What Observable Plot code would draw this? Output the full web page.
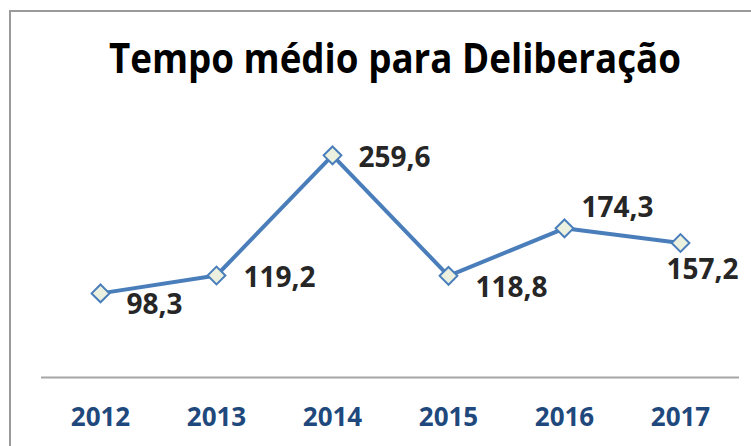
<!DOCTYPE html>
<html>
<head>
<meta charset="utf-8">
<script src="https://cdn.jsdelivr.net/npm/d3@7"></script>
<script src="https://cdn.jsdelivr.net/npm/@observablehq/plot@0.6"></script>
<style>
  html, body { margin: 0; padding: 0; background: #fff; }
  #wrap { position: relative; width: 751px; height: 446px; overflow: hidden; background: #fff; }
  #frame { position: absolute; left: 9px; top: 10px; width: 800px; height: 500px;
           border-top: 2px solid #9a9a9a; border-left: 2px solid #9a9a9a; box-sizing: border-box; }
  #title { position: absolute; left: 0; top: 32px; width: 790px; text-align: center;
           font-family: "Open Sans", sans-serif; font-weight: 700; font-size: 42px; color: #000;
           transform: scaleX(0.875); transform-origin: 395px 0; line-height: 1.2; }
  #chart { position: absolute; left: 0; top: 100px; }
</style>
</head>
<body>
<div id="wrap">
  <div id="frame"></div>
  <div id="title">Tempo médio para Deliberação</div>
  <div id="chart"></div>
</div>
<script>
const years = ["2012", "2013", "2014", "2015", "2016", "2017"];
const values = [98.3, 119.2, 259.6, 118.8, 174.3, 157.2];
const valueLabels = ["98,3", "119,2", "259,6", "118,8", "174,3", "157,2"];

const data = years.map((year, i) => ({year, value: values[i], label: valueLabels[i]}));

// label placement (style), per year: [dx, dy]
const labelOffsets = {
  "2012": [26, 12], "2013": [27, 3], "2014": [26, 3],
  "2015": [27, 12], "2016": [17, -20], "2017": [-14, 27]
};

const blue = "#4A7EBB";
const labelMarks = years.map(yr => Plot.text(data.filter(d => d.year === yr), {
  x: "year", y: "value", text: "label", textAnchor: "start",
  dx: labelOffsets[yr][0], dy: labelOffsets[yr][1],
  fontSize: 28, fontWeight: 700, fill: "#262626"
}));

const chart = Plot.plot({
  width: 751,
  height: 346,
  marginLeft: 41,
  marginRight: 12,
  marginTop: 20.3,
  marginBottom: 69,
  style: {fontFamily: "Open Sans, sans-serif", background: "transparent"},
  x: {type: "point", domain: years, padding: 0.5, axis: null},
  y: {domain: [0, 300], axis: null},
  marks: [
    Plot.ruleY([0], {stroke: "#A6A6A6", strokeWidth: 2}),
    Plot.axisX({tickSize: 0, tickPadding: 30, fontSize: 26, fontWeight: 700, fill: "#1F497D", label: null}),
    Plot.line(data, {x: "year", y: "value", stroke: blue, strokeWidth: 4}),
    Plot.dot(data, {x: "year", y: "value", symbol: "diamond2", r: 8, fill: "#EBF1DE", stroke: blue, strokeWidth: 2}),
    ...labelMarks
  ]
});
document.getElementById("chart").appendChild(chart);
</script>
</body>
</html>
